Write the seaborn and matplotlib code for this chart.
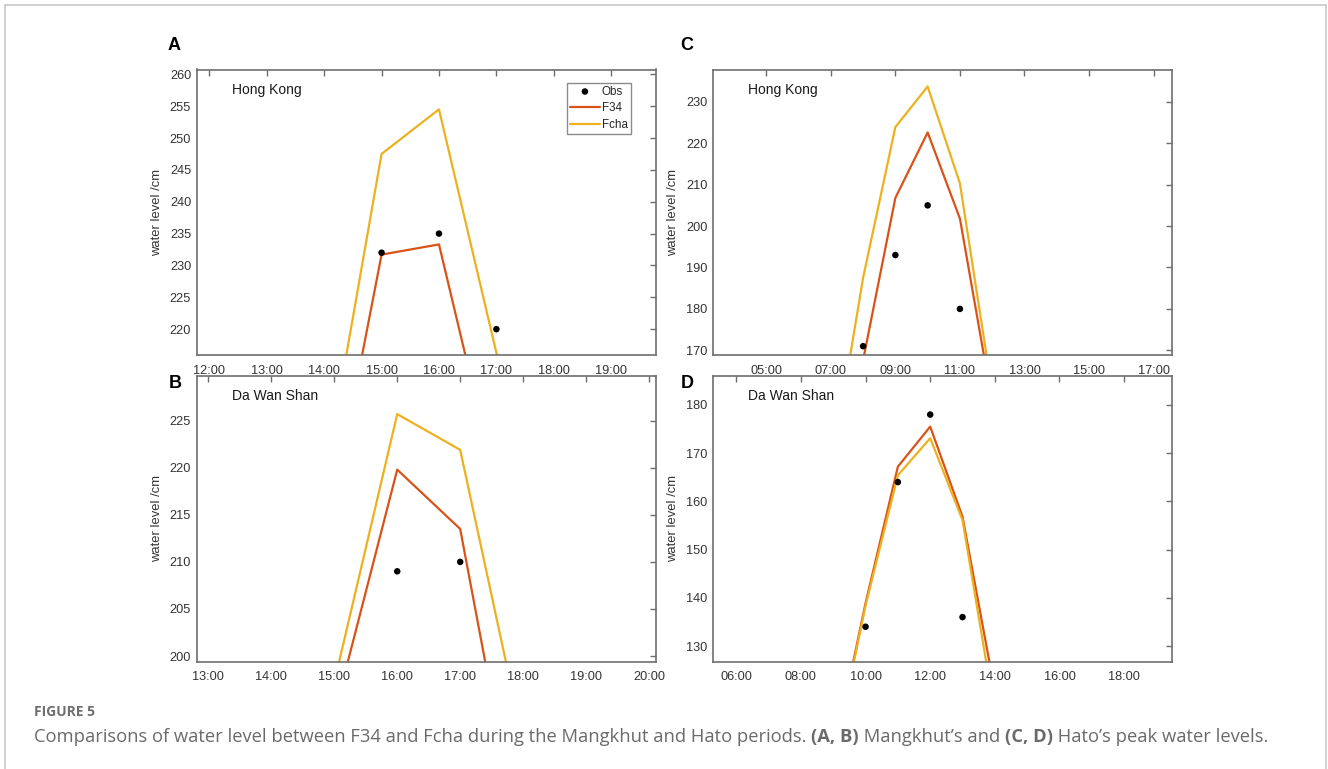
import matplotlib
matplotlib.use("Agg")
import matplotlib.pyplot as plt
from matplotlib.lines import Line2D
import seaborn as sns

# ---- data (hours of day, water level in cm) ----
a_time = [14, 15, 16, 17, 18]
a_f34 = [185.2, 231.7, 233.3, 195.5, 170.0]
a_fcha = [196.1, 247.5, 254.5, 216.3, 190.0]
a_obs_time = [15, 16, 17]
a_obs = [232, 235, 220]

b_time = [15, 16, 17, 18]
b_f34 = [193.8, 219.8, 213.5, 178.0]
b_fcha = [197.2, 225.7, 221.9, 190.9]
b_obs_time = [16, 17]
b_obs = [209, 210]

c_time = [7, 8, 9, 10, 11, 12]
c_f34 = [140.0, 167.6, 206.8, 222.6, 201.8, 157.4]
c_fcha = [140.5, 187.5, 223.9, 233.7, 210.3, 160.0]
c_obs_time = [8, 9, 10, 11]
c_obs = [171, 193, 205, 180]

d_time = [9, 10, 11, 12, 13, 14]
d_f34 = [107.0, 138.9, 167.2, 175.5, 156.8, 120.6]
d_fcha = [106.0, 138.4, 165.4, 173.1, 156.1, 116.0]
d_obs_time = [10, 11, 12, 13]
d_obs = [134, 164, 178, 136]

a_xticks = [12, 13, 14, 15, 16, 17, 18, 19]
b_xticks = [13, 14, 15, 16, 17, 18, 19, 20]
c_xticks = [5, 7, 9, 11, 13, 15, 17]
d_xticks = [6, 8, 10, 12, 14, 16, 18]

stations = ["Hong Kong", "Da Wan Shan", "Hong Kong", "Da Wan Shan"]
panel_letters = ["A", "B", "C", "D"]
series_names = ["Obs", "F34", "Fcha"]

caption_head = "FIGURE 5"
caption_parts = [
    ("Comparisons of water level between F34 and Fcha during the Mangkhut and Hato periods. ", "normal"),
    ("(A, B)", "bold"),
    (" Mangkhut\u2019s and ", "normal"),
    ("(C, D)", "bold"),
    (" Hato\u2019s peak water levels.", "normal"),
]

# ---- styling ----
sns.set_style("white")
plt.rcParams["font.family"] = ["Liberation Sans", "DejaVu Sans"]

C_F34 = "#D95319"
C_FCHA = "#EDB120"
SPINE = "#6e6e6e"
TXT = "#333333"

W, H = 1328, 769
fig = plt.figure(figsize=(W / 100, H / 100), dpi=100)


def fx(px):
    return px / W


def fy(py):
    return 1 - py / H


left_col, right_col = 196.7, 713.0
ax_w = 459.3
top_row = (69.5, 355.3)
bot_row = (375.5, 661.7)


def make_axes(x0, row):
    t, b = row
    return fig.add_axes([fx(x0), fy(b), ax_w / W, (b - t) / H])


axA = make_axes(left_col, top_row)
axB = make_axes(left_col, bot_row)
axC = make_axes(right_col, top_row)
axD = make_axes(right_col, bot_row)

panels = [
    (axA, a_time, a_f34, a_fcha, a_obs_time, a_obs, a_xticks, (11.78, 19.78), (215.9, 260.75), range(220, 261, 5)),
    (axB, b_time, b_f34, b_fcha, b_obs_time, b_obs, b_xticks, (12.815, 20.11), (199.4, 229.8), range(200, 226, 5)),
    (axC, c_time, c_f34, c_fcha, c_obs_time, c_obs, c_xticks, (3.35, 17.58), (168.8, 237.8), range(170, 231, 10)),
    (axD, d_time, d_f34, d_fcha, d_obs_time, d_obs, d_xticks, (5.28, 19.49), (126.75, 186.1), range(130, 181, 10)),
]

for i, (ax, t, f34, fcha, ot, obs, xt, xl, yl, yt) in enumerate(panels):
    sns.lineplot(x=t, y=f34, ax=ax, color=C_F34, lw=1.6, label=series_names[1], legend=False)
    sns.lineplot(x=t, y=fcha, ax=ax, color=C_FCHA, lw=1.6, label=series_names[2], legend=False)
    sns.scatterplot(x=ot, y=obs, ax=ax, color="black", s=22, edgecolor="none",
                    label=series_names[0], legend=False, zorder=5)
    ax.set_xlim(*xl)
    ax.set_ylim(*yl)
    ax.set_xticks(xt)
    ax.set_xticklabels([f"{h:02d}:00" for h in xt])
    ax.set_yticks(list(yt))
    ax.tick_params(direction="in", top=True, right=True, length=4, width=1,
                   color=SPINE, labelcolor=TXT, labelsize=9.2)
    ax.tick_params(axis="x", pad=7)
    ax.tick_params(axis="y", pad=4)
    for sp in ax.spines.values():
        sp.set_color(SPINE)
        sp.set_linewidth(1.2)
    ax.set_ylabel("water level /cm", fontsize=9.4, color=TXT)
    ax.yaxis.set_label_coords(-0.074, 0.5)
    ax.set_xlabel("")
    ax.text(0.076, 0.928, stations[i], transform=ax.transAxes, fontsize=10,
            color="#1a1a1a", va="center", ha="left")

# legend in panel A
h, l = axA.get_legend_handles_labels()
order = [l.index(n) for n in series_names]
leg = axA.legend([h[k] for k in order], [l[k] for k in order], loc="upper right",
                 bbox_to_anchor=(0.945, 0.954), fontsize=8.4, frameon=True, fancybox=False,
                 handlelength=2.6, handletextpad=0.15, borderpad=0.25, labelspacing=0.4,
                 borderaxespad=0)
leg.get_frame().set_edgecolor(SPINE)
leg.get_frame().set_linewidth(1.0)

# panel letters
for letter, (px, py) in zip(panel_letters, [(167.3, 46), (168.3, 383), (680.7, 46), (680.7, 383)]):
    fig.text(fx(px), fy(py), letter, fontsize=13, fontweight="bold", va="center", ha="left", color="black")

# outer frame (left, top, right)
frame_c = "#c9c9c9"
fig.add_artist(Line2D([fx(4.5), fx(4.5)], [0, fy(4.5)], color=frame_c, lw=1.2))
fig.add_artist(Line2D([fx(4.5), fx(1326)], [fy(4.5), fy(4.5)], color=frame_c, lw=1.2))
fig.add_artist(Line2D([fx(1326), fx(1326)], [0, fy(4.5)], color=frame_c, lw=1.2))

# caption
cap_font = ["Open Sans", "DejaVu Sans"]
fig.text(fx(34), fy(715.5), caption_head, fontsize=10, fontweight="bold", color="#6f6f6f",
         family=cap_font, va="baseline", ha="left")
fig.canvas.draw()
renderer = fig.canvas.get_renderer()
x = fx(34)
for txt, wt in caption_parts:
    t_art = fig.text(x, fy(742), txt, fontsize=13.2, fontweight=wt, color="#6a6a6a",
                     family=cap_font, va="baseline", ha="left")
    bb = t_art.get_window_extent(renderer=renderer)
    x += bb.width / W

fig.savefig("out.png", dpi=100, facecolor="white")
